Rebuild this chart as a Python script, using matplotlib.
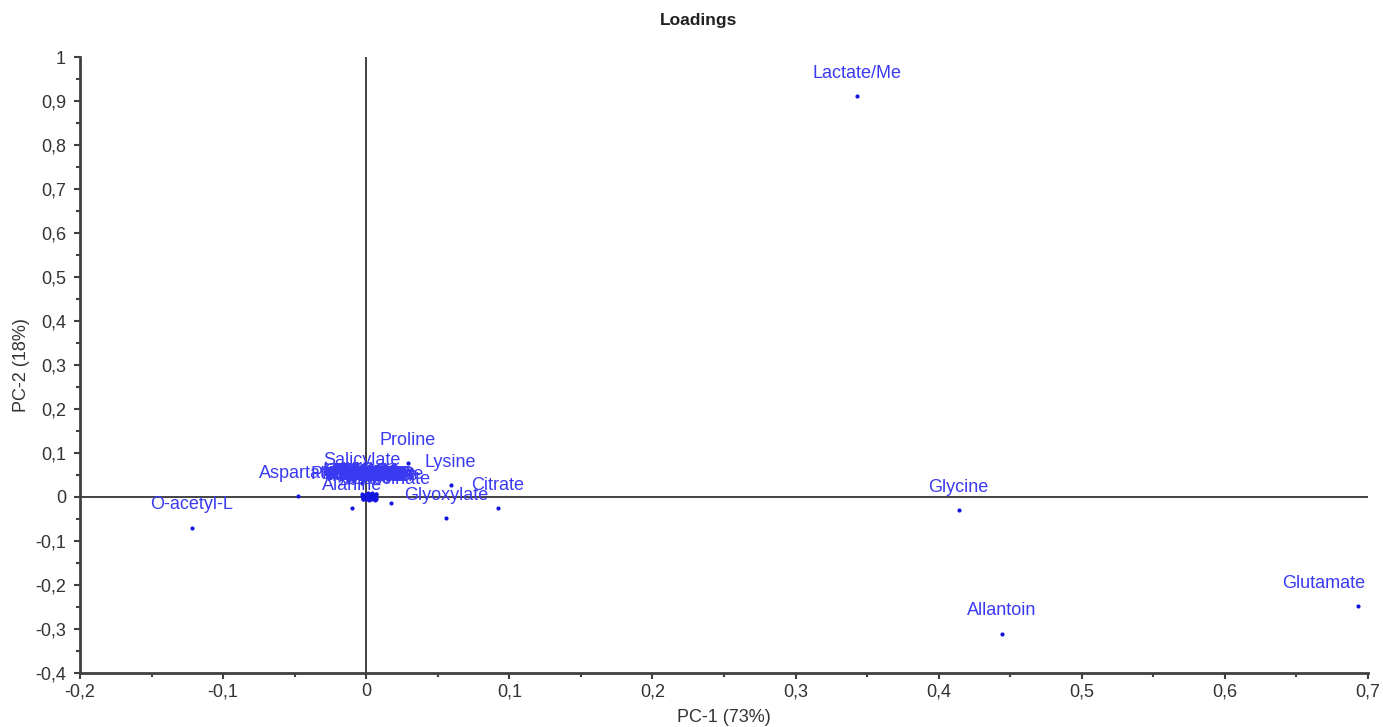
import numpy as np
import matplotlib.pyplot as plt
from matplotlib.ticker import MultipleLocator, FuncFormatter

plt.rcParams['font.family'] = ['Liberation Sans', 'DejaVu Sans']

# loadings
names = ["Lactate/Me", "Glycine", "Glutamate", "Allantoin", "O-acetyl-L",
         "Citrate", "Lysine", "Glyoxylate", "Proline", "Aspartate",
         "Alanine", "Salicylate", "Succinate"]
pc1 = [0.343, 0.414, 0.693, 0.444, -0.122,
       0.092, 0.059, 0.056, 0.029, -0.048,
       -0.010, -0.003, 0.017]
pc2 = [0.911, -0.030, -0.248, -0.311, -0.070,
       -0.025, 0.027, -0.048, 0.077, 0.002,
       -0.025, 0.032, -0.013]

# small loadings piled up around the origin (names not legible in the source)
cluster_names = ["Phenylalanine", "Trigonelline", "Acetate", "Formate", "Betaine",
                 "Choline", "Creatine", "Valine", "Leucine", "Isoleucine",
                 "Threonine", "Tyrosine", "Glutamine", "Asparagine", "Malate",
                 "Fumarate", "Pyruvate", "Sucrose", "Glucose", "GABA",
                 "Tryptophan", "Histidine", "Serine", "Uracil", "Methionine",
                 "Arginine", "Ornithine", "Taurine", "Fructose",
                 "Inosine", "Uridine", "Adenosine", "Xanthine"]
cluster_pc1 = [0.001, 0.004, -0.003, 0.003, 0.006,
               -0.002, 0.007, 0.001, 0.005, -0.001,
               0.006, 0.002, -0.001, 0.003, 0.004,
               0.000, 0.006, -0.003, 0.003, 0.007,
               0.001, 0.005, -0.002, 0.007, 0.000,
               0.005, 0.000, 0.006, 0.002,
               0.007, 0.002, 0.004, -0.002]
cluster_pc2 = [0.000, -0.004, 0.006, 0.002, 0.004,
               -0.005, 0.007, 0.008, -0.003, -0.002,
               0.003, -0.006, 0.005, 0.000, 0.008,
               -0.004, -0.006, 0.002, 0.001, 0.006,
               -0.005, 0.004, -0.003, 0.001, 0.007,
               0.005, -0.001, -0.002, 0.006,
               -0.005, 0.002, 0.007, -0.004]

all_names = names + cluster_names
x = np.array(pc1 + cluster_pc1)
y = np.array(pc2 + cluster_pc2)

text_blue = '#3a3af2'
dot_blue = '#1515e0'
axis_grey = '#404040'

fig = plt.figure(figsize=(13.83, 7.27), dpi=100)
ax = fig.add_axes([80 / 1383, 1 - 673 / 727, (1368 - 80) / 1383, (673 - 57) / 727])

ax.axhline(0, color='#222222', lw=1.2, zorder=1)
ax.axvline(0, color='#222222', lw=1.2, zorder=1)
ax.plot(x, y, 'o', color=dot_blue, markersize=3, markeredgewidth=0, zorder=3)

for name, xi, yi in zip(all_names, x, y):
    # keep the rightmost label inside the axes
    if xi > 0.65:
        ha, dx = 'right', 5
    else:
        ha, dx = 'center', 0
    ax.annotate(name, (xi, yi), xytext=(dx, 16.5), textcoords='offset points',
                ha=ha, va='center', color=text_blue, fontsize=13, zorder=4)

ax.set_xlim(-0.2, 0.7)
ax.set_ylim(-0.4, 1.0)
ax.xaxis.set_major_locator(MultipleLocator(0.1))
ax.xaxis.set_minor_locator(MultipleLocator(0.05))
ax.yaxis.set_major_locator(MultipleLocator(0.1))
ax.yaxis.set_minor_locator(MultipleLocator(0.05))


def comma(v, pos):
    s = f"{v:.1f}".rstrip('0').rstrip('.')
    if s in ('-0', ''):
        s = '0'
    return s.replace('.', ',')


ax.xaxis.set_major_formatter(FuncFormatter(comma))
ax.yaxis.set_major_formatter(FuncFormatter(comma))

for side in ('top', 'right'):
    ax.spines[side].set_visible(False)
for side in ('left', 'bottom'):
    ax.spines[side].set_color(axis_grey)
    ax.spines[side].set_linewidth(2)
ax.tick_params(which='both', colors=axis_grey, labelcolor='#333333', labelsize=13)
ax.tick_params(which='major', length=4, width=1.5)
ax.tick_params(axis='y', which='major', pad=6)
ax.tick_params(which='minor', length=3, width=1.5)

ax.set_xlabel("PC-1 (73%)", fontsize=13, color='#333333', labelpad=6)
ax.set_ylabel("PC-2 (18%)", fontsize=13, color='#333333', labelpad=4)
fig.text(699 / 1383, 1 - 20 / 727, "Loadings", ha='center', va='center',
         fontsize=12.5, fontweight='bold', color='#222222')

fig.savefig('out.png', dpi=100)
